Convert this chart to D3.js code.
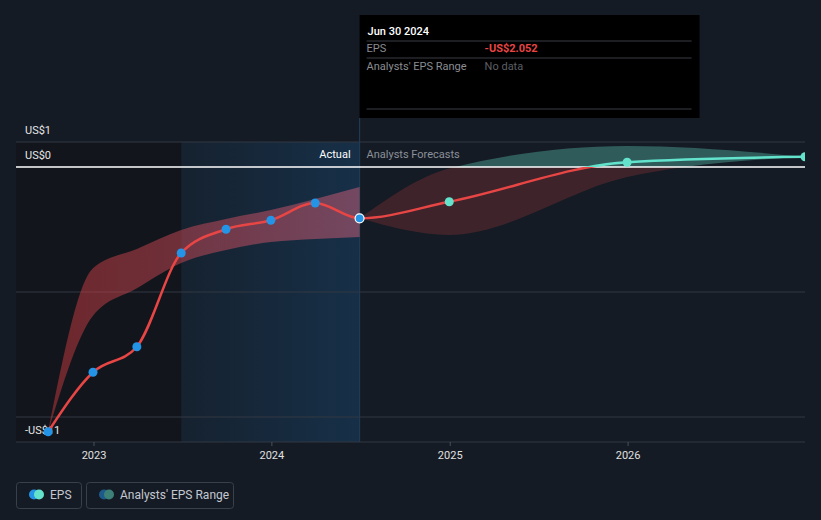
<!DOCTYPE html>
<html>
<head>
<meta charset="utf-8">
<script src="https://cdn.jsdelivr.net/npm/d3@7/dist/d3.min.js"></script>
<style>
  html, body { margin: 0; padding: 0; background: #151b24; }
  svg { display: block; font-family: Roboto, "Noto Sans", sans-serif; }
</style>
</head>
<body>
<svg id="chart" width="821" height="520"></svg>
<script>
// ---------- DATA ----------
const actualDates = ["2022-09-30","2022-12-31","2023-03-31","2023-06-30","2023-09-30","2023-12-31","2024-03-31","2024-06-30"];
const actualEPS   = [-10.59, -8.21, -7.19, -3.44, -2.49, -2.13, -1.44, -2.052];
const actualHigh  = [-10.59, -4.05, -3.28, -2.52, -2.08, -1.72, -1.28, -0.80];
const actualLow   = [-10.59, -5.95, -4.85, -3.84, -3.32, -3.00, -2.88, -2.80];

const forecastDates = ["2024-06-30","2024-12-31","2025-12-31","2026-12-31"];
const forecastEPS   = [-2.052, -1.39, 0.19, 0.41];
const forecastHigh  = [-2.052, -0.06, 0.84, 0.41];
const forecastLow   = [-2.052, -2.72, -0.40, 0.41];

const yTickValues = [1, 0, -11];
const yTickLabels = ["US$1", "US$0", "-US$11"];
const yGridValues = [1, -5, -10, -11];
const xTickYears  = ["2023", "2024", "2025", "2026"];

const tooltipDate  = "Jun 30 2024";
const tooltipRows  = [["EPS", "-US$2.052"], ["Analysts' EPS Range", "No data"]];
const legendItems  = ["EPS", "Analysts' EPS Range"];

(function () {
// ---------- SETUP ----------
const parse = d3.timeParse("%Y-%m-%d");
const svg = d3.select("#chart");
const W = 821, H = 520;
const pLeft = 16, pRight = 805, pTop = 142, pBottom = 442;

const x = d3.scaleTime().domain([parse("2022-07-26"), parse("2026-12-31")]).range([pLeft, pRight]);
const y = d3.scaleLinear().domain([-11, 1]).range([pBottom, pTop]);

const RED = "#e84545", TEAL = "#63e2cc", BLUE = "#2394e6";

const defs = svg.append("defs");
const gBlue = defs.append("linearGradient").attr("id", "gBlue").attr("x1", 0).attr("x2", 1).attr("y1", 0).attr("y2", 0);
gBlue.append("stop").attr("offset", 0).attr("stop-color", "#1a5c94").attr("stop-opacity", 0.10);
gBlue.append("stop").attr("offset", 1).attr("stop-color", "#1a5c94").attr("stop-opacity", 0.32);
const gBand = defs.append("linearGradient").attr("id", "gBand").attr("x1", 0).attr("x2", 1).attr("y1", 0).attr("y2", 0);
gBand.append("stop").attr("offset", 0).attr("stop-color", "#c8383c").attr("stop-opacity", 0.5);
gBand.append("stop").attr("offset", 1).attr("stop-color", "#d0607a").attr("stop-opacity", 0.5);

defs.append("clipPath").attr("id", "clipNeg").append("rect")
  .attr("x", 0).attr("width", W).attr("y", y(0)).attr("height", H);
defs.append("clipPath").attr("id", "clipPos").append("rect")
  .attr("x", 0).attr("width", W).attr("y", 0).attr("height", y(0));
defs.append("clipPath").attr("id", "clipPlot").append("rect")
  .attr("x", pLeft).attr("width", pRight - pLeft).attr("y", 0).attr("height", H);

const now = parse("2024-06-30");
const yearAgo = parse("2023-06-30");

// shaded background regions
svg.append("rect").attr("x", x.range()[0]).attr("y", pTop)
  .attr("width", x(yearAgo) - x.range()[0]).attr("height", pBottom - pTop).attr("fill", "#12161c");
svg.append("rect").attr("x", x(yearAgo)).attr("y", pTop)
  .attr("width", x(now) - x(yearAgo)).attr("height", pBottom - pTop).attr("fill", "url(#gBlue)");

// grid lines
svg.append("g").selectAll("line").data(yGridValues).join("line")
  .attr("x1", pLeft).attr("x2", pRight)
  .attr("y1", d => y(d)).attr("y2", d => y(d))
  .attr("stroke", "#323843").attr("stroke-width", 1);

// now line
svg.append("line").attr("x1", x(now)).attr("x2", x(now)).attr("y1", 118).attr("y2", pBottom)
  .attr("stroke", "#1f3a52").attr("stroke-width", 1.2);

// y labels (beneath the marks)
svg.append("g").selectAll("text").data(yTickValues).join("text")
  .attr("x", 25).attr("y", d => y(d) - 8)
  .attr("fill", "#e6e6e6").attr("font-size", 11).text((d, i) => yTickLabels[i]);

// ---------- BANDS ----------
const actual = actualDates.map((d, i) => ({ date: parse(d), v: actualEPS[i], hi: actualHigh[i], lo: actualLow[i] }));
const forecast = forecastDates.map((d, i) => ({ date: parse(d), v: forecastEPS[i], hi: forecastHigh[i], lo: forecastLow[i] }));

const area = d3.area().x(d => x(d.date)).y0(d => y(d.lo)).y1(d => y(d.hi)).curve(d3.curveMonotoneX);
svg.append("path").datum(actual).attr("d", area).attr("fill", "url(#gBand)");

const fb = svg.append("g").attr("clip-path", "url(#clipPlot)");
fb.append("path").datum(forecast).attr("d", area).attr("fill", RED).attr("fill-opacity", 0.2).attr("clip-path", "url(#clipNeg)");
fb.append("path").datum(forecast).attr("d", area).attr("fill", TEAL).attr("fill-opacity", 0.33).attr("clip-path", "url(#clipPos)");

// zero line
svg.append("line").attr("x1", pLeft).attr("x2", pRight).attr("y1", y(0)).attr("y2", y(0))
  .attr("stroke", "#ffffff").attr("stroke-width", 1.5);

// ---------- LINE ----------
const all = actual.concat(forecast.slice(1));
const line = d3.line().x(d => x(d.date)).y(d => y(d.v)).curve(d3.curveMonotoneX);
const lg = svg.append("g").attr("clip-path", "url(#clipPlot)");
lg.append("path").datum(all).attr("d", line).attr("fill", "none").attr("stroke", RED).attr("stroke-width", 2.5).attr("clip-path", "url(#clipNeg)");
lg.append("path").datum(all).attr("d", line).attr("fill", "none").attr("stroke", TEAL).attr("stroke-width", 2.5).attr("clip-path", "url(#clipPos)");

// points
lg.selectAll("circle.act").data(actual).join("circle").attr("class", "act")
  .attr("cx", d => x(d.date)).attr("cy", d => y(d.v)).attr("r", 4.5)
  .attr("fill", BLUE)
  .attr("stroke", (d, i) => i === actual.length - 1 ? "#ffffff" : "none").attr("stroke-width", 1.2);
lg.selectAll("circle.fc").data(forecast.slice(1)).join("circle").attr("class", "fc")
  .attr("cx", d => x(d.date)).attr("cy", d => y(d.v)).attr("r", 4.5).attr("fill", TEAL);

// ---------- X AXIS ----------
const xAxis = d3.axisBottom(x).tickValues(xTickYears.map(s => parse(s + "-01-01")))
  .tickFormat(d3.timeFormat("%Y")).tickSize(4).tickPadding(5);
const xg = svg.append("g").attr("transform", `translate(0,${pBottom})`).call(xAxis);
xg.select(".domain").remove();
xg.selectAll("line").attr("stroke", "#4a505a");
xg.selectAll("text").attr("fill", "#e0e0e0").attr("font-size", 11).attr("font-family", "Roboto, sans-serif");

svg.append("text").attr("x", x(now) - 9).attr("y", 158).attr("text-anchor", "end")
  .attr("fill", "#ffffff").attr("font-size", 11).text("Actual");
svg.append("text").attr("x", x(now) + 7).attr("y", 158)
  .attr("fill", "#8b9099").attr("font-size", 11).text("Analysts Forecasts");

// ---------- TOOLTIP ----------
const tt = svg.append("g").attr("transform", `translate(${x(now)},15)`);
tt.append("rect").attr("width", 340).attr("height", 103).attr("fill", "#000000");
tt.append("text").attr("x", 8).attr("y", 20).attr("fill", "#ffffff").attr("font-size", 11).attr("font-weight", 500).text(tooltipDate);
[26, 43, 94].forEach(yy => tt.append("line").attr("x1", 7).attr("x2", 332).attr("y1", yy).attr("y2", yy)
  .attr("stroke", "#3a3d42").attr("stroke-width", 1));
tooltipRows.forEach((r, i) => {
  tt.append("text").attr("x", 7).attr("y", 37 + i * 18).attr("fill", "#8a8d92").attr("font-size", 11).text(r[0]);
  tt.append("text").attr("x", 125).attr("y", 37 + i * 18)
    .attr("fill", i === 0 ? "#e84545" : "#5c5f64").attr("font-size", 11)
    .attr("font-weight", i === 0 ? "bold" : "normal").text(r[1]);
});

// ---------- LEGEND ----------
const legendWidths = [65, 147];
const legendColors = [[BLUE, TEAL], ["#1d5a8a", "#3d8078"]];
let lx = 16.5;
legendItems.forEach((name, i) => {
  const g = svg.append("g").attr("transform", `translate(${lx},482.5)`);
  g.append("rect").attr("width", legendWidths[i]).attr("height", 26).attr("rx", 3)
    .attr("fill", "none").attr("stroke", "#3a404a");
  g.append("circle").attr("cx", 17.5).attr("cy", 12).attr("r", 5).attr("fill", legendColors[i][0]);
  g.append("circle").attr("cx", 22.5).attr("cy", 12).attr("r", 5).attr("fill", legendColors[i][1]);
  g.append("text").attr("x", 33.5).attr("y", 16.5).attr("fill", "#c4c8d0").attr("font-size", 12).text(name);
  lx += legendWidths[i] + 5;
});
})();
</script>
</body>
</html>
